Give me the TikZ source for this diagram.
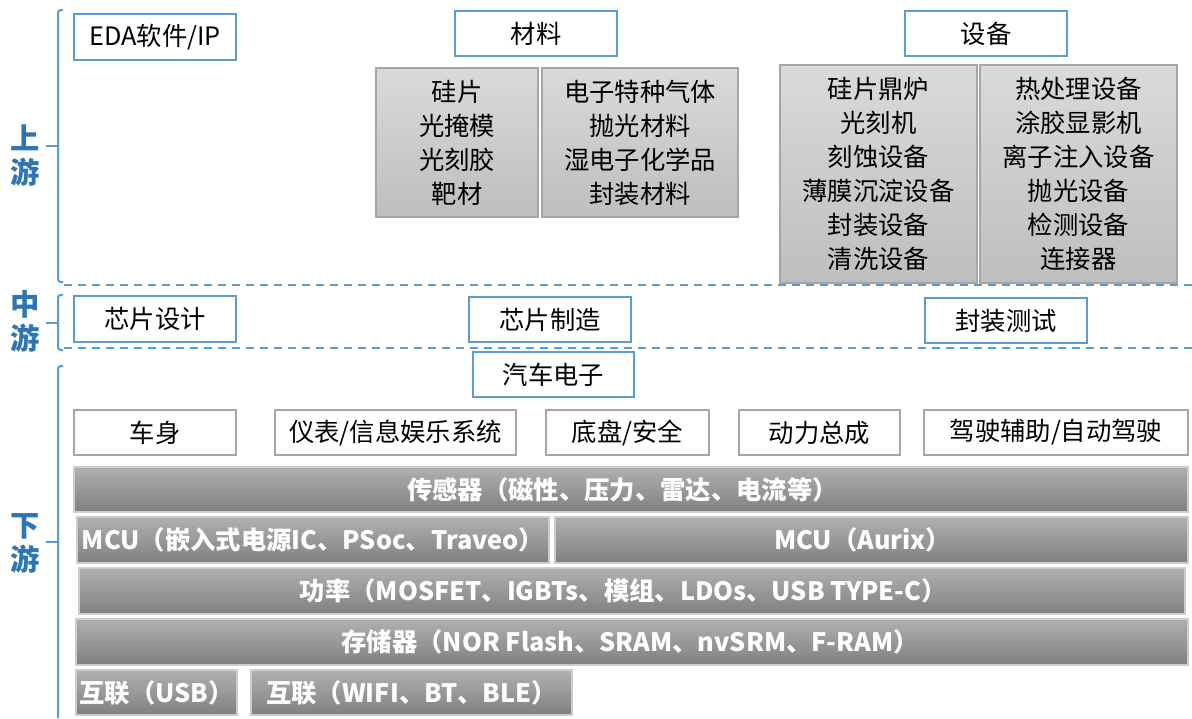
\documentclass[tikz,border=0pt]{standalone}
\usepackage{fontspec}
\setmainfont{Noto Sans CJK SC}
\definecolor{bblue}{RGB}{91,155,213}
\definecolor{lblue}{RGB}{46,117,182}
\definecolor{gborder}{RGB}{166,166,166}
\definecolor{gtop}{RGB}{218,218,218}
\definecolor{gbot}{RGB}{190,190,190}
\definecolor{btop}{RGB}{176,176,176}
\definecolor{bbot}{RGB}{128,128,128}
\definecolor{bedge}{RGB}{205,205,205}
\tikzset{
  bluebox/.style={draw=bblue,line width=1.5pt,fill=white,inner sep=0pt,
    font=\fontsize{19}{23}\selectfont,text=black},
  whitebox/.style={draw=gborder,line width=1.5pt,fill=white,inner sep=0pt,
    font=\fontsize{19}{23}\selectfont,text=black},
  graybox/.style={draw=gborder,line width=1.5pt,top color=gtop,bottom color=gbot,
    inner sep=0pt,align=center,font=\fontsize{19}{25.5}\selectfont,text=black},
  barbox/.style={draw=bedge,line width=1pt,top color=btop,bottom color=bbot,
    inner sep=0pt,font=\fontsize{19}{22}\selectfont\bfseries,text=white},
  bracket/.style={draw=bblue,line width=1.5pt},
  divider/.style={draw=bblue,line width=1.6pt,dash pattern=on 6pt off 4.5pt},
  stage/.style={text=lblue,font=\fontsize{22}{25.5}\selectfont\bfseries,align=center,inner sep=0pt}
}
\begin{document}
\begin{tikzpicture}[x=0.75pt,y=-0.75pt]
\useasboundingbox[fill=white] (0,0) rectangle (1192,718);

% stage labels and brackets
\node[stage] (up) at (25,155) {上\\游};
\node[stage] (mid) at (25,321) {中\\游};
\node[stage] (down) at (25,543) {下\\游};
\draw[bracket,rounded corners=2pt] (63,10) -- (58,10) -- (58,282) -- (63,282);
\draw[bracket] (46,146) -- (58,146);
\draw[bracket,rounded corners=2pt] (63,295) -- (58,295) -- (58,350) -- (63,350);
\draw[bracket] (46,323) -- (58,323);
\draw[bracket,rounded corners=2pt] (63,366) -- (58,366) -- (58,718);
\draw[bracket] (46,542) -- (58,542);
\draw[divider] (64,285) -- (1192,285);
\draw[divider] (64,348) -- (1192,348);

% upstream
\node[bluebox,minimum width=121.5pt,minimum height=34.5pt] (eda) at (155,37) {EDA软件/IP};
\node[bluebox,minimum width=121.5pt,minimum height=33.75pt] (cailiao) at (536,33.5) {材料};
\node[bluebox,minimum width=121.5pt,minimum height=33.75pt] (shebei) at (986,33.5) {设备};
\node[graybox,minimum width=121.5pt,minimum height=111.75pt] (mat1) at (457,142.5) {硅片\\光掩模\\光刻胶\\靶材};
\node[graybox,minimum width=147pt,minimum height=111.75pt] (mat2) at (640,142.5) {电子特种气体\\抛光材料\\湿电子化学品\\封装材料};
\node[graybox,minimum width=147.75pt,minimum height=163.5pt] (eq1) at (878.5,174) {硅片鼎炉\\光刻机\\刻蚀设备\\薄膜沉淀设备\\封装设备\\清洗设备};
\node[graybox,minimum width=147.75pt,minimum height=163.5pt] (eq2) at (1078.5,174) {热处理设备\\涂胶显影机\\离子注入设备\\抛光设备\\检测设备\\连接器};

% midstream
\node[bluebox,minimum width=121.5pt,minimum height=34.5pt] (design) at (155,319) {芯片设计};
\node[bluebox,minimum width=121.5pt,minimum height=33.75pt] (fab) at (550,319.5) {芯片制造};
\node[bluebox,minimum width=121.5pt,minimum height=33.75pt] (pack) at (1006,320.5) {封装测试};

% downstream
\node[bluebox,minimum width=120.75pt,minimum height=33.75pt] (auto) at (553.5,374.5) {汽车电子};
\node[whitebox,minimum width=121.5pt,minimum height=33.75pt] (body) at (155,432.5) {车身};
\node[whitebox,minimum width=180.75pt,minimum height=33.75pt] (info) at (395.5,432.5) {仪表/信息娱乐系统};
\node[whitebox,minimum width=122.25pt,minimum height=33.75pt] (chassis) at (627.5,432.5) {底盘/安全};
\node[whitebox,minimum width=120.75pt,minimum height=33.75pt] (powertrain) at (819.5,432.5) {动力总成};
\node[whitebox,minimum width=198pt,minimum height=33.75pt] (adas) at (1056,432.5) {驾驶辅助/自动驾驶};

\node[barbox,minimum width=835.5pt,minimum height=33.75pt] (sensor) at (631,489.5) {传感器（磁性、压力、雷达、电流等）\hspace*{13pt}};
\node[barbox,minimum width=354pt,minimum height=34.5pt] (mcu1) at (313,540) {MCU（嵌入式电源IC、PSoc、Traveo）};
\node[barbox,minimum width=474.75pt,minimum height=34.5pt] (mcu2) at (871.5,540) {MCU（Aurix）\hspace*{13pt}};
\node[barbox,minimum width=829.5pt,minimum height=34.5pt] (power) at (632,591) {功率（MOSFET、IGBTs、模组、LDOs、USB TYPE-C）\hspace*{13pt}};
\node[barbox,minimum width=834pt,minimum height=34.5pt] (storage) at (632,642) {存储器（NOR Flash、SRAM、nvSRM、F-RAM）\hspace*{3pt}};
\node[barbox,minimum width=120.75pt,minimum height=33.75pt] (usb) at (156.5,692.5) {互联（USB）};
\node[barbox,minimum width=240.75pt,minimum height=33.75pt] (wifi) at (411.5,692.5) {互联（WIFI、BT、BLE）};
\end{tikzpicture}
\end{document}
